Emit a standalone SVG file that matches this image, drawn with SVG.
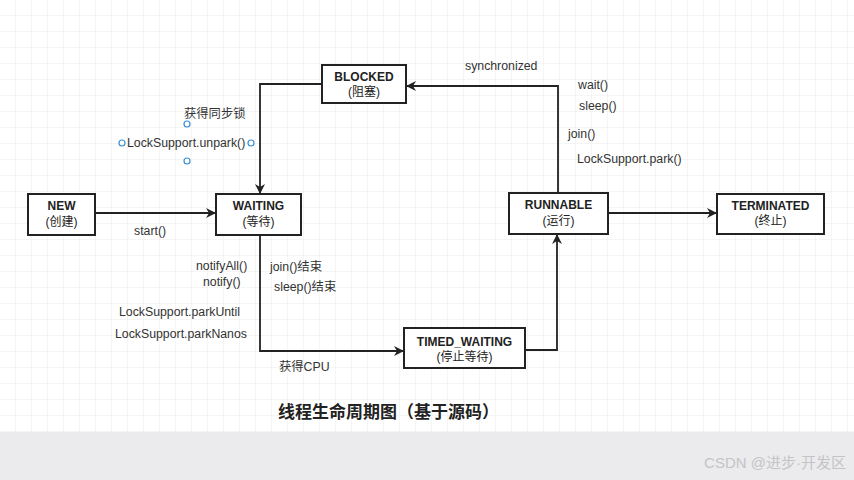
<svg xmlns="http://www.w3.org/2000/svg" width="854" height="480" viewBox="0 0 854 480">
<defs>
<pattern id="g" width="16" height="16" patternUnits="userSpaceOnUse"><path d="M16 0V16M0 16H16" fill="none" stroke="#ebebeb" stroke-width="1"/></pattern>
<marker id="a" markerWidth="10" markerHeight="10" refX="9" refY="5" orient="auto" markerUnits="userSpaceOnUse"><path d="M0 0L10 5L0 10L3 5Z" fill="#222"/></marker>
</defs>
<style>
.b{fill:#fff;stroke:#222;stroke-width:2}
.t{font-family:"Liberation Sans","Noto Sans CJK SC",sans-serif;font-size:12px;fill:#222;text-anchor:middle}
.tb{font-weight:bold}
.l{font-family:"Liberation Sans","Noto Sans CJK SC",sans-serif;font-size:12.3px;fill:#333}
.c{fill:none;stroke:#222;stroke-width:1.8;marker-end:url(#a)}
.h{fill:#fff;stroke:#3a8fd6;stroke-width:1.2}
</style>
<rect width="854" height="480" fill="#fff"/>
<rect width="854" height="432" fill="url(#g)"/>
<rect y="432" width="854" height="48" fill="#ebebed"/>
<g id="connectors">
<path class="c" d="M95 213H215"/>
<path class="c" d="M322 84H260V193"/>
<path class="c" d="M558 193V86H407"/>
<path class="c" d="M608 213H716"/>
<path class="c" d="M260 235V351H403"/>
<path class="c" d="M525 350H557V235"/>
</g>
<g id="NEW"><rect class="b" x="28" y="194" width="67" height="41"/><text class="t tb" x="61.5" y="210">NEW</text><text class="t" x="61.5" y="226">(创建)</text></g>
<g id="WAITING"><rect class="b" x="216" y="194" width="85" height="41"/><text class="t tb" x="258.5" y="210">WAITING</text><text class="t" x="258.5" y="226">(等待)</text></g>
<g id="BLOCKED"><rect class="b" x="322" y="65" width="84" height="38"/><text class="t tb" x="364" y="81">BLOCKED</text><text class="t" x="364" y="96">(阻塞)</text></g>
<g id="RUNNABLE"><rect class="b" x="509" y="193" width="99" height="41"/><text class="t tb" x="558.5" y="209">RUNNABLE</text><text class="t" x="558.5" y="225">(运行)</text></g>
<g id="TERMINATED"><rect class="b" x="717" y="194" width="107" height="40"/><text class="t tb" x="770.5" y="210">TERMINATED</text><text class="t" x="770.5" y="225">(终止)</text></g>
<g id="TIMED_WAITING"><rect class="b" x="404" y="328" width="121" height="40"/><text class="t tb" x="464.5" y="346">TIMED_WAITING</text><text class="t" x="464.5" y="361">(停止等待)</text></g>
<g id="labels">
<text class="l" x="134" y="235">start()</text>
<text class="l" x="184" y="118">获得同步锁</text>
<text class="l" x="127" y="147">LockSupport.unpark()</text>
<circle class="h" cx="187" cy="124" r="3"/><circle class="h" cx="122" cy="143" r="3"/><circle class="h" cx="251" cy="143" r="3"/><circle class="h" cx="187" cy="161" r="3"/>
<text class="l" x="465" y="70">synchronized</text>
<text class="l" x="578" y="89">wait()</text>
<text class="l" x="579" y="110">sleep()</text>
<text class="l" x="568" y="138">join()</text>
<text class="l" x="577" y="163">LockSupport.park()</text>
<text class="l" x="196" y="270">notifyAll()</text>
<text class="l" x="203" y="286">notify()</text>
<text class="l" x="270" y="271">join()结束</text>
<text class="l" x="274" y="291">sleep()结束</text>
<text class="l" x="119" y="316">LockSupport.parkUntil</text>
<text class="l" x="115" y="338">LockSupport.parkNanos</text>
<text class="l" x="279" y="371">获得CPU</text>
</g>
<text x="278" y="418" font-family="'Noto Sans CJK SC',sans-serif" font-weight="bold" font-size="17" fill="#222">线程生命周期图（基于源码）</text>
<text x="846" y="468" text-anchor="end" font-family="'Liberation Sans','Noto Sans CJK SC',sans-serif" font-size="15" fill="#c4c4c4">CSDN @进步·开发区</text>
</svg>
